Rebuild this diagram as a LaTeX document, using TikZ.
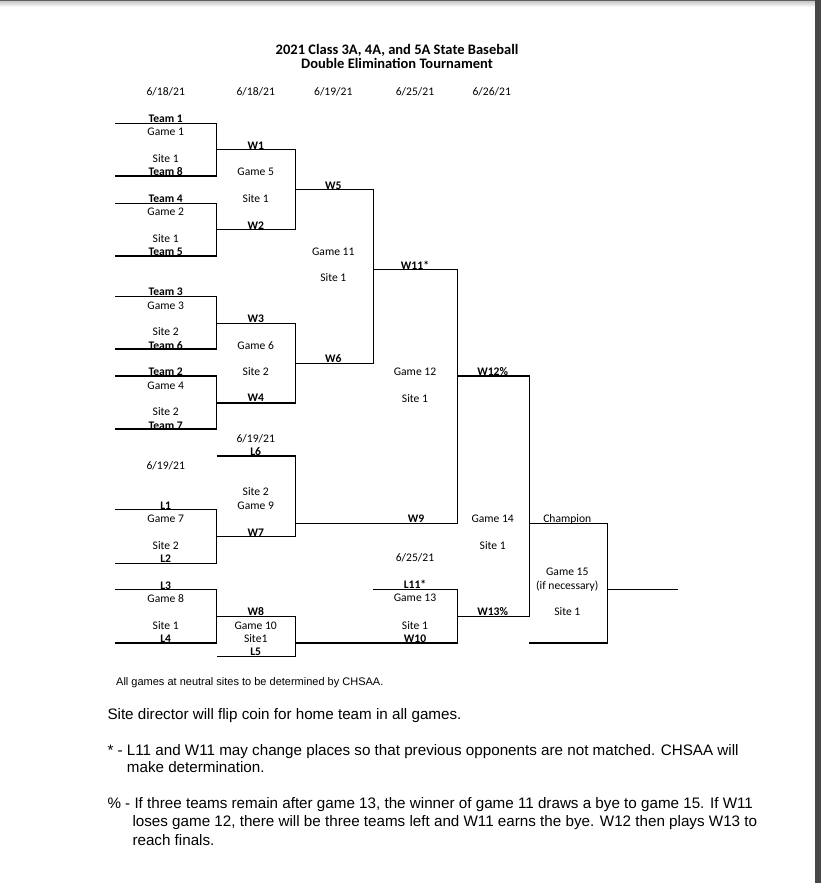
\documentclass[tikz,border=0pt]{standalone}
\usepackage{fontspec}
\setmainfont{Carlito}
\newfontfamily\notefont{Liberation Sans}
\usepackage{xcolor}
\usetikzlibrary{positioning}

\begin{document}
\begin{tikzpicture}[x=1pt,y=-1pt,
  lbl/.style={anchor=base,inner sep=0pt,font=\fontsize{11.6}{13}\selectfont},
  win/.style={anchor=base,inner sep=0pt,font=\fontsize{11.6}{13}\selectfont\bfseries},
  bline/.style={line width=1.2pt},
  note/.style={anchor=base west,inner sep=0pt,font=\notefont\fontsize{15.2}{18}\selectfont}]
  \useasboundingbox (0,0) rectangle (821,883);
  \fill[white] (0,0) rectangle (821,883);

  % page edge
  \fill[black!62] (0,0) rectangle (815,2);
  \shade[top color=black!18, bottom color=white] (0,2) rectangle (815,7);
  \fill[black!72] (815,0) rectangle (821,883);

  % title and dates
  \node[win,font=\fontsize{14.5}{17}\selectfont\bfseries] (title1) at (397,55) {2021 Class 3A, 4A, and 5A State Baseball};
  \node[win,font=\fontsize{14.5}{17}\selectfont\bfseries] (title2) at (397,69) {Double Elimination Tournament};
  \node[lbl] (d1) at (165.7,95.7) {6/18/21};
  \node[lbl] (d2) at (255.7,95.7) {6/18/21};
  \node[lbl] (d3) at (333.3,95.7) {6/19/21};
  \node[lbl] (d4) at (415,95.7) {6/25/21};
  \node[lbl] (d5) at (491.7,95.7) {6/26/21};

  % first round
  \draw[bline] (115,123.3) -- (216.5,123.3) -- (216.5,176) -- (115,176);
  \draw[bline] (115,203.3) -- (216.5,203.3) -- (216.5,256) -- (115,256);
  \draw[bline] (115,296.7) -- (216.5,296.7) -- (216.5,349) -- (115,349);
  \draw[bline] (115,376) -- (216.5,376) -- (216.5,429) -- (115,429);
  \node[win] (team1) at (165.7,122) {Team 1};
  \node[lbl] (g1) at (165.7,135.7) {Game 1};
  \node[lbl] (s1) at (165.7,162.3) {Site 1};
  \node[win] (team8) at (165.7,175.3) {Team 8};
  \node[win] (team4) at (165.7,202.3) {Team 4};
  \node[lbl] (g2) at (165.7,215) {Game 2};
  \node[lbl] (s2) at (165.7,242) {Site 1};
  \node[win] (team5) at (165.7,255) {Team 5};
  \node[win] (team3) at (165.7,295) {Team 3};
  \node[lbl] (g3) at (165.7,309) {Game 3};
  \node[lbl] (s3) at (165.7,335.3) {Site 2};
  \node[win] (team6) at (165.7,349.3) {Team 6};
  \node[win] (team2) at (165.7,375) {Team 2};
  \node[lbl] (g4) at (165.7,389) {Game 4};
  \node[lbl] (s4) at (165.7,415.3) {Site 2};
  \node[win] (team7) at (165.7,429) {Team 7};

  % winners side
  \draw[bline] (216.5,149.3) -- (295.3,149.3) -- (295.3,229.3) -- (216.5,229.3);
  \draw[bline] (216.5,323.3) -- (295.3,323.3) -- (295.3,403) -- (216.5,403);
  \draw[bline] (295.3,189.3) -- (373.3,189.3) -- (373.3,363.3) -- (295.3,363.3);
  \node[win] (w1) at (255.7,149.7) {W1};
  \node[lbl] (g5) at (255.7,175.3) {Game 5};
  \node[lbl] (s5) at (255.7,202.3) {Site 1};
  \node[win] (w2) at (255.7,229) {W2};
  \node[win] (w3) at (255.7,322.3) {W3};
  \node[lbl] (g6) at (255.7,349) {Game 6};
  \node[lbl] (s6) at (255.7,375.3) {Site 2};
  \node[win] (w4) at (255.7,401.7) {W4};
  \node[win] (w5) at (333.3,189.7) {W5};
  \node[lbl] (g11) at (333.3,255.3) {Game 11};
  \node[lbl] (s11) at (333.3,281) {Site 1};
  \node[win] (w6) at (333.3,362.3) {W6};

  % losers side
  \draw[bline] (115,509.3) -- (216.5,509.3) -- (216.5,563.3) -- (115,563.3);
  \draw[bline] (115,589.3) -- (216.5,589.3) -- (216.5,643) -- (115,643);
  \draw[bline] (216.5,456) -- (295.3,456) -- (295.3,536.3) -- (216.5,536.3);
  \draw[bline] (216.5,616.3) -- (295.3,616.3) -- (295.3,656.3) -- (216.5,656.3);
  \node[lbl] (d6) at (165.7,469) {6/19/21};
  \node[win] (l1) at (165.7,509) {L1};
  \node[lbl] (g7) at (165.7,522.3) {Game 7};
  \node[lbl] (s7) at (165.7,549.3) {Site 2};
  \node[win] (l2) at (165.7,562.3) {L2};
  \node[win] (l3) at (165.7,589) {L3};
  \node[lbl] (g8) at (165.7,602.3) {Game 8};
  \node[lbl] (s8) at (165.7,629.3) {Site 1};
  \node[win] (l4) at (165.7,642.3) {L4};
  \node[lbl] (d7) at (255.7,442.3) {6/19/21};
  \node[win] (l6) at (255.7,455.7) {L6};
  \node[lbl] (s9) at (255.7,495) {Site 2};
  \node[lbl] (g9) at (255.7,509.3) {Game 9};
  \node[win] (w7) at (255.7,536.3) {W7};
  \node[win] (w8) at (255.7,615.7) {W8};
  \node[lbl] (g10) at (255.7,629) {Game 10};
  \node[lbl] (s10) at (255.7,642.3) {Site1};
  \node[win] (l5) at (255.7,655.7) {L5};

  % finals
  \draw[bline] (373.3,269.3) -- (457.5,269.3) -- (457.5,523.3) -- (295.3,523.3);
  \draw[bline] (373.3,589.3) -- (457.5,589.3) -- (457.5,643) -- (295.3,643);
  \draw[bline] (457.5,376) -- (529.3,376) -- (529.3,616.3) -- (457.5,616.3);
  \draw[bline] (529.3,523.3) -- (607.3,523.3) -- (607.3,643) -- (529.3,643);
  \draw[bline] (607.3,589.3) -- (678.3,589.3);
  \node[win] (w11) at (415,269) {W11*};
  \node[lbl] (g12) at (415,375) {Game 12};
  \node[lbl] (s12) at (415,402) {Site 1};
  \node[win] (w9) at (416,522.3) {W9};
  \node[lbl] (d8) at (415,561.7) {6/25/21};
  \node[win] (l11) at (415,588) {L11*};
  \node[lbl] (g13) at (415,601.7) {Game 13};
  \node[lbl] (s13) at (415,629.3) {Site 1};
  \node[win] (w10) at (415,642.3) {W10};
  \node[win] (w12) at (492.7,375.7) {W12\%};
  \node[lbl] (g14) at (492.7,522.3) {Game 14};
  \node[lbl] (s14) at (492.7,549) {Site 1};
  \node[win] (w13) at (492.7,615) {W13\%};
  \node[lbl] (champ) at (567.3,522.3) {Champion};
  \node[lbl] (g15) at (567.3,575) {Game 15};
  \node[lbl] (ifnec) at (567.3,589.3) {(if necessary)};
  \node[lbl] (s15) at (567.3,615) {Site 1};

  % notes
  \node[note,font=\notefont\fontsize{11}{13}\selectfont] (n0) at (116,685.5) {All games at neutral sites to be determined by CHSAA.};
  \node[note] (n1) at (107.3,719) {Site director will flip coin for home team in all games.};
  \node[note] (n2) at (107.3,755) {* - L11 and W11 may change places so that previous opponents are not matched. CHSAA will};
  \node[note] (n3) at (126.7,772.7) {make determination.};
  \node[note] (n4) at (107.3,808.3) {\% - If three teams remain after game 13, the winner of game 11 draws a bye to game 15. If W11};
  \node[note] (n5) at (132.3,826.7) {loses game 12, there will be three teams left and W11 earns the bye. W12 then plays W13 to};
  \node[note] (n6) at (132.3,845) {reach finals.};
\end{tikzpicture}
\end{document}
